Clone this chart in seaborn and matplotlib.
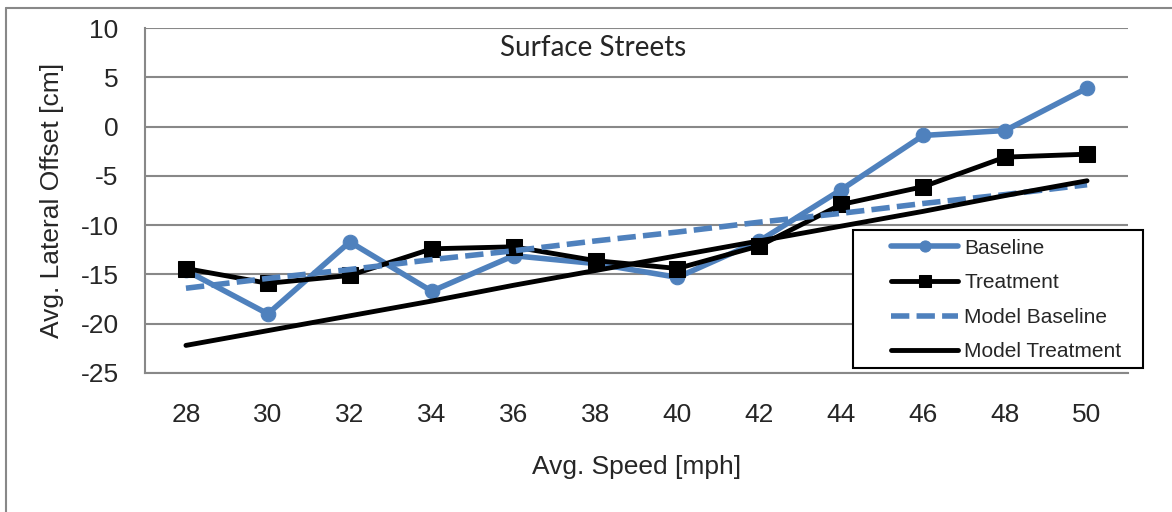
import numpy as np
import pandas as pd
import seaborn as sns
import matplotlib.pyplot as plt
from matplotlib.lines import Line2D
from matplotlib.patches import Rectangle
from matplotlib.ticker import MultipleLocator

# data
speeds = [28, 30, 32, 34, 36, 38, 40, 42, 44, 46, 48, 50]
baseline = [-14.6, -19.0, -11.7, -16.7, -13.1, -13.9, -15.3, -11.6, -6.4, -0.9, -0.4, 3.9]
treatment = [-14.4, -15.9, -15.1, -12.4, -12.2, -13.6, -14.4, -12.1, -7.9, -6.1, -3.1, -2.8]
model_baseline = [-16.4, -15.4, -14.5, -13.5, -12.6, -11.6, -10.7, -9.7, -8.8, -7.8, -6.9, -5.9]
model_treatment = [-22.2, -20.7, -19.2, -17.7, -16.1, -14.6, -13.1, -11.6, -10.1, -8.6, -7.0, -5.5]

sns.set_style("white")
plt.rcParams["font.family"] = ["Liberation Sans", "DejaVu Sans"]
plt.rcParams["axes.unicode_minus"] = False

BLUE = "#4F81BD"
GREY = "#888888"
W, H = 1172, 512

df = pd.DataFrame({"speed": speeds, "Baseline": baseline, "Treatment": treatment,
                   "Model Baseline": model_baseline, "Model Treatment": model_treatment})

fig = plt.figure(figsize=(W / 100, H / 100), dpi=100)
ax = fig.add_axes([145 / W, 1 - 373 / H, 983 / W, 345 / H])

sns.lineplot(data=df, x="speed", y="Baseline", ax=ax, color=BLUE, lw=4,
             marker="o", markersize=10.5, markeredgecolor=BLUE, label="Baseline", zorder=3)
sns.lineplot(data=df, x="speed", y="Treatment", ax=ax, color="black", lw=3.5,
             marker="s", markersize=11.5, markeredgecolor="black", label="Treatment", zorder=4)
sns.lineplot(data=df, x="speed", y="Model Baseline", ax=ax, color=BLUE, lw=4,
             dashes=(3.3, 1.3), label="Model Baseline", zorder=5)
sns.lineplot(data=df, x="speed", y="Model Treatment", ax=ax, color="black", lw=3.5,
             label="Model Treatment", zorder=6)

ax.set_xlim(27, 51)
ax.set_ylim(-25, 10)
ax.xaxis.set_minor_locator(MultipleLocator(2, offset=1))
ax.yaxis.set_major_locator(MultipleLocator(5))
ax.set_xticks(speeds)
ax.set_xticklabels([str(s) for s in speeds])

ax.grid(axis="y", color=GREY, lw=1.5)
ax.set_axisbelow(True)
for side in ["top", "right"]:
    ax.spines[side].set_visible(False)
for side in ["left", "bottom"]:
    ax.spines[side].set_color(GREY)
    ax.spines[side].set_linewidth(1.5)

ax.tick_params(axis="x", which="major", length=0, pad=21.5, labelsize=19)
ax.tick_params(axis="x", which="minor", length=7, width=1.5, color=GREY, direction="out")
ax.tick_params(axis="y", which="major", length=8, width=1.5, color=GREY, direction="out",
               pad=11, labelsize=19)

ax.set_xlabel("Avg. Speed [mph]", fontsize=19, labelpad=20)
ax.set_ylabel("Avg. Lateral Offset [cm]", fontsize=19, labelpad=12)

ax.text(0.456, 0.942, "Surface Streets", transform=ax.transAxes, ha="center", va="center",
        fontsize=20, family=["Lato", "DejaVu Sans"])

# legend with a hand-placed box, like the spreadsheet one
leg = ax.legend(loc="center left", bbox_to_anchor=(881 / W, 1 - 300 / H),
                bbox_transform=fig.transFigure, frameon=False, fontsize=15,
                handlelength=3.2, handletextpad=0.3, labelspacing=0.75, borderpad=0)
for h in leg.legend_handles:
    h.set_markersize(8)
leg.set_zorder(10)
ax.add_patch(Rectangle((853 / W, 1 - 368 / H), 290 / W, 138 / H, transform=fig.transFigure,
                       facecolor="white", edgecolor="black", lw=1.5, zorder=9, clip_on=False))

# chart area border
fig.add_artist(Line2D([6 / W, 1], [1 - 8 / H, 1 - 8 / H], transform=fig.transFigure, color=GREY, lw=1.5))
fig.add_artist(Line2D([6 / W, 6 / W], [0, 1 - 8 / H], transform=fig.transFigure, color=GREY, lw=1.5))

fig.savefig("out.png", dpi=100)
